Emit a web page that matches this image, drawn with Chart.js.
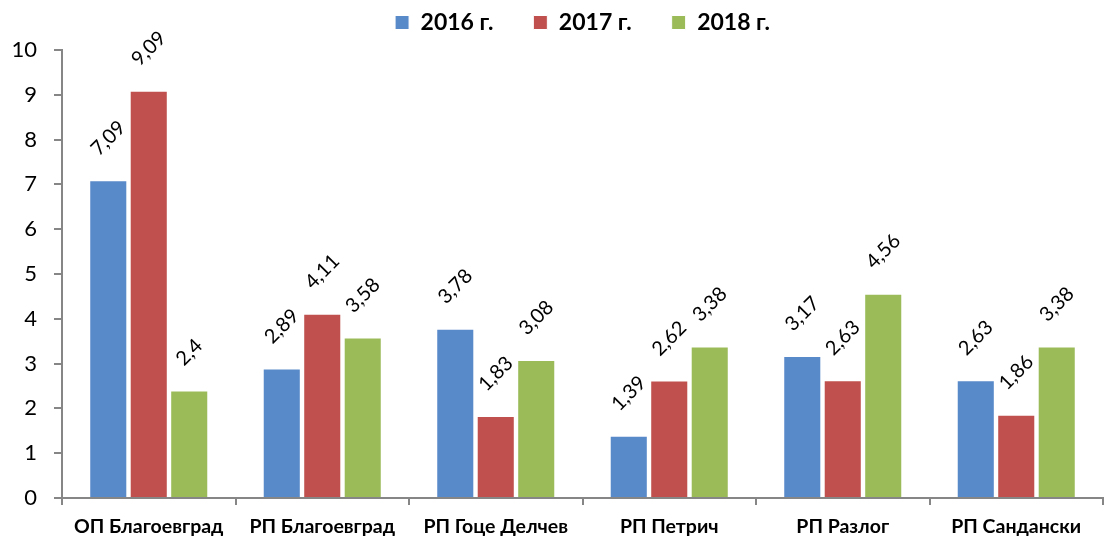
<!DOCTYPE html>
<html>
<head>
<meta charset="utf-8">
<script src="https://cdn.jsdelivr.net/npm/chart.js@4/dist/chart.umd.min.js"></script>
<style>
	html, body { margin: 0; padding: 0; background: #fff; }
	#wrap { width: 1119px; height: 536px; }
</style>
</head>
<body>
<div id="wrap"><canvas id="chart_ref"></canvas></div>
<script>
const categories = ["ОП Благоевград", "РП Благоевград", "РП Гоце Делчев", "РП Петрич", "РП Разлог", "РП Сандански"];
const seriesNames = ["2016 г.", "2017 г.", "2018 г."];
const values2016 = [7.09, 2.89, 3.78, 1.39, 3.17, 2.63];
const values2017 = [9.09, 4.11, 1.83, 2.62, 2.63, 1.86];
const values2018 = [2.4, 3.58, 3.08, 3.38, 4.56, 3.38];
const yTicks = [0, 1, 2, 3, 4, 5, 6, 7, 8, 9, 10];

const colors = ["#5889C9", "#BF504D", "#9BBB59"];
const fontFamily = "Lato, 'Open Sans', sans-serif";
const axisColor = "#868686";

// rotated value labels above each bar
const valueLabels = {
	id: "valueLabels",
	afterDatasetsDraw(chart) {
		const ctx = chart.ctx;
		ctx.save();
		ctx.font = "20px " + fontFamily;
		ctx.fillStyle = "#000";
		ctx.textAlign = "center";
		ctx.textBaseline = "middle";
		chart.data.datasets.forEach((ds, i) => {
			chart.getDatasetMeta(i).data.forEach((bar, j) => {
				const text = String(ds.data[j]).replace(".", ",");
				const w = ctx.measureText(text).width;
				const h = 15;
				const boxH = (w + h) / Math.SQRT2;
				const cy = bar.y - 23 - boxH / 2;
				ctx.save();
				ctx.translate(bar.x, cy);
				ctx.rotate(-Math.PI / 4);
				ctx.fillText(text, 0, 0);
				ctx.restore();
			});
		});
		ctx.restore();
	},
};

// nudge the legend a bit right and up, like the original
const legendShift = {
	id: "legendShift",
	afterLayout(chart) {
		const lg = chart.legend;
		lg.left += 31; lg.right += 31;
		lg.top -= 6; lg.bottom -= 6;
	},
};

new Chart(document.getElementById("chart_ref"), {
	type: "bar",
	data: {
		labels: categories,
		datasets: [values2016, values2017, values2018].map((vals, i) => ({
			label: seriesNames[i],
			data: vals,
			backgroundColor: colors[i],
			borderColor: "#ffffff",
			borderWidth: 1,
			categoryPercentage: 0.7,
			barPercentage: 0.94,
		})),
	},
	options: {
		responsive: true,
		maintainAspectRatio: false,
		animation: false,
		layout: { padding: { top: -23, right: 16, bottom: 0, left: 0 } },
		plugins: {
			tooltip: { enabled: false },
			legend: {
				position: "top",
				labels: {
					color: "#000",
					boxWidth: 14,
					boxHeight: 14,
					padding: 40,
					font: { family: fontFamily, size: 23, weight: "bold" },
				},
			},
		},
		scales: {
			x: {
				border: { display: true, color: axisColor, width: 2 },
				grid: {
					display: true,
					drawOnChartArea: false,
					drawTicks: true,
					tickLength: 7,
					color: axisColor,
					lineWidth: 2,
					offset: true,
				},
				ticks: {
					color: "#000",
					padding: 10,
					font: { family: fontFamily, size: 19.5, weight: "bold" },
					maxRotation: 0,
				},
				afterFit(scale) { scale.height = 38; },
			},
			y: {
				min: 0,
				max: 10,
				border: { display: true, color: axisColor, width: 2 },
				grid: {
					display: true,
					drawOnChartArea: false,
					drawTicks: true,
					tickLength: 8,
					color: axisColor,
					lineWidth: 2,
				},
				afterBuildTicks(scale) { scale.ticks = yTicks.map(v => ({ value: v })); },
				ticks: {
					color: "#000",
					padding: 17,
					font: { family: fontFamily, size: 22 },
				},
				afterFit(scale) { scale.width = 62; },
			},
		},
	},
	plugins: [valueLabels, legendShift],
});
</script>
</body>
</html>
